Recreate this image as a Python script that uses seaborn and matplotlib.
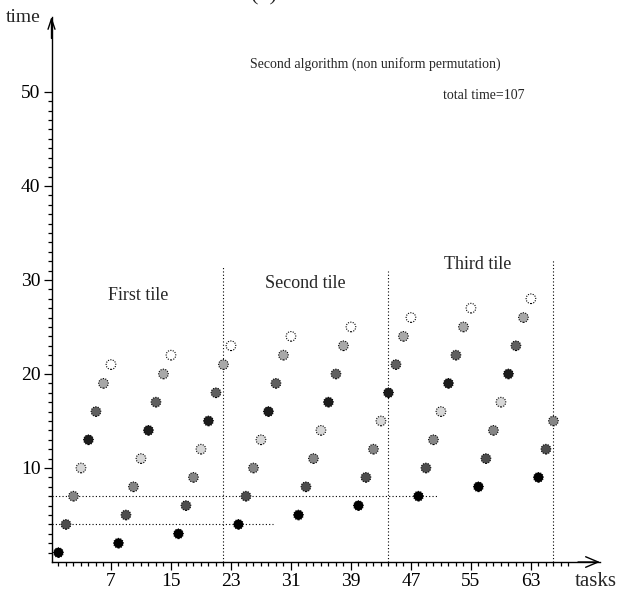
import numpy as np
import pandas as pd
import matplotlib
matplotlib.use("Agg")
import matplotlib.pyplot as plt
import seaborn as sns

# ─── Data: completion time of each task, chain by chain ─────────────────────
# each chain starts one task after the previous one ends
CHAIN_1 = [1, 4, 7, 10, 13, 16, 19, 21]
CHAIN_2 = [2, 5, 8, 11, 14, 17, 20, 22]
CHAIN_3 = [3, 6, 9, 12, 15, 18, 21, 23]
CHAIN_4 = [4, 7, 10, 13, 16, 19, 22, 24]
CHAIN_5 = [5, 8, 11, 14, 17, 20, 23, 25]
CHAIN_6 = [6, 9, 12, 15, 18, 21, 24, 26]
CHAIN_7 = [7, 10, 13, 16, 19, 22, 25, 27]
CHAIN_8 = [8, 11, 14, 17, 20, 23, 26, 28]
CHAIN_9 = [9, 12, 15]
CHAINS = [CHAIN_1, CHAIN_2, CHAIN_3, CHAIN_4, CHAIN_5,
          CHAIN_6, CHAIN_7, CHAIN_8, CHAIN_9]

# grey level by position inside a chain
SHADES = ["#000000", "#4d4d4d", "#858585", "#d6d6d6",
          "#1c1c1c", "#606060", "#a8a8a8", "#ffffff"]

X_TICKS = [7, 15, 23, 31, 39, 47, 55, 63]
Y_TICKS = [10, 20, 30, 40, 50]

TILE_EDGES = [22, 44, 66]
TILE_TOPS = [31.4, 30.9, 32.1]
TILE_NAMES = ["First tile", "Second tile", "Third tile"]
TILE_LABEL_POS = [(10.6, 28.3), (32.9, 29.6), (55.9, 31.6)]

H_LEVELS = [7, 4]
H_ENDS = [50.6, 28.6]

TITLE = "Second algorithm (non uniform permutation)"
TOTAL = "total time=107"

# ─── Build table ────────────────────────────────────────────────────────────
times = [t for c in CHAINS for t in c]
pos = [i for c in CHAINS for i in range(len(c))]
df = pd.DataFrame({"task": np.arange(len(times)), "time": times, "pos": pos})

sns.set_style("white")
plt.rcParams["font.family"] = ["Liberation Serif", "DejaVu Serif"]

fig = plt.figure(figsize=(6.19, 5.97), dpi=100)
ax = fig.add_axes([0.0832, 0.0586, 0.886, 0.9135])

xmin, xmax = -0.93, 72.2
ax.set_xlim(xmin, xmax)
ax.set_ylim(0, 58.0)

# dotted guides
for lvl, end in zip(H_LEVELS, H_ENDS):
    ax.hlines(lvl, xmin, end, colors="black", linestyles=(0, (1, 2)), lw=0.8)
for x, top in zip(TILE_EDGES, TILE_TOPS):
    ax.vlines(x, 0, top, colors="black", linestyles=(0, (1, 2)), lw=0.8)

sns.scatterplot(data=df, x="task", y="time", hue="pos",
                palette=dict(enumerate(SHADES)), s=48,
                edgecolor="black", linewidth=0.8, legend=False,
                ax=ax, zorder=3)
ax.collections[-1].set_linestyle((0, (1, 1.2)))

# axes with arrows
for side in ["top", "right"]:
    ax.spines[side].set_visible(False)
for side in ["left", "bottom"]:
    ax.spines[side].set_color("black")
    ax.spines[side].set_linewidth(1.0)
ax.annotate("", xy=(1.0, 0), xytext=(0.96, 0), xycoords="axes fraction",
            arrowprops=dict(arrowstyle="->,head_length=0.9,head_width=0.38",
                            lw=1.0, color="black", shrinkA=0, shrinkB=0))
ax.annotate("", xy=(0, 1.0), xytext=(0, 0.96), xycoords="axes fraction",
            arrowprops=dict(arrowstyle="->,head_length=0.75,head_width=0.25",
                            lw=1.0, color="black", shrinkA=0, shrinkB=0))

ax.set_xticks(X_TICKS)
ax.set_xticks(range(0, 69), minor=True)
ax.set_yticks(Y_TICKS)
ax.set_yticks(range(1, 51), minor=True)
ax.tick_params(which="both", bottom=True, left=True, top=False, right=False)
ax.tick_params(which="major", direction="out", length=6, width=0.9,
               labelsize=14, pad=2, colors="black")
ax.tick_params(which="minor", direction="out", length=3, width=0.9,
               colors="black")
ax.set_xlabel("")
ax.set_ylabel("")

for name, (tx, ty) in zip(TILE_NAMES, TILE_LABEL_POS):
    ax.text(tx, ty, name, ha="center", va="center", fontsize=13)
ax.text(42.2, 53.0, TITLE, ha="center", va="center", fontsize=10)
ax.text(56.7, 49.6, TOTAL, ha="center", va="center", fontsize=10)

fig.text(6 / 619, 1 - 18 / 597, "time", ha="left", va="center", fontsize=14)
fig.text(596 / 619, 1 - 582 / 597, "tasks", ha="center", va="center", fontsize=15)
fig.text(264 / 619, 1 - 0.5 / 597, "(b)", ha="center", va="baseline", fontsize=16)

fig.savefig("out.png", dpi=100)
